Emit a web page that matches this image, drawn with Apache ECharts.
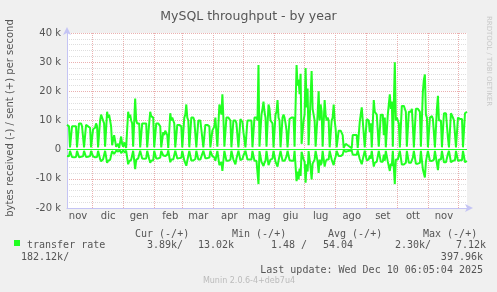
<!DOCTYPE html>
<html><head><meta charset="utf-8">
<script src="https://cdn.jsdelivr.net/npm/echarts@6/dist/echarts.min.js"></script>
<style>html,body{margin:0;padding:0;background:#f0f0f0}#c{width:497px;height:292px}</style>
</head><body><div id="c"></div>
<script>
// Italian month abbreviations used for x labels
const monthNames = ['gen','feb','mar','apr','mag','giu','lug','ago','set','ott','nov','dic'];
// first day shown: 2024-11-06, one value per day, 400 days
const startYMD = [2024, 10, 6];
// sent (+), kB/s, daily averages
const sent = [
 8.5,9,8,0.8,0.6,
 8,8.5,8,7.5,8,0.8,0.6,
 9,8.5,9,8,8.5,0.8,0.6,
 8.5,9,8,8.5,7.5,0.8,0.6,
 7,6.5,7.5,9,8,0.8,0.6,
 10,12,11,10.5,9,1,0.8,
 13,11,12,10,8,1.5,1,
 5,3,1,1.5,2,0.6,0.5,
 4.5,2,1,2.5,3,0.6,0.5,
 13,11,12,10,9,1,0.8,
 17.5,10,9,8.5,9,0.8,0.6,
 9,9.5,9,8.5,9,0.8,0.6,
 9,13,11.5,12,11,0.8,0.6,
 9,8.5,9,9,8,0.8,0.6,
 6,5,6.5,6,5,0.6,0.5,
 12.5,10,11,10,9,0.8,0.6,
 8.5,9,8.5,9,8,0.8,0.6,
 11,12,15.5,11,10,0.8,0.6,
 11,10.5,11,10,9.5,0.8,0.6,
 10,9.5,10,7,6.5,0.8,0.6,
 8.5,9,8.5,8,8,0.8,0.6,
 6.5,6,8,11,11.5,1,0.8,
 15.5,14,12,19,11,1,0.8,
 11,10.5,11,10.5,10,0.8,0.6,
 10,9.5,10,9,9.5,0.8,0.6,
 10.5,10,9.5,6,6.5,0.8,0.6,
 10,10.5,10,9.5,10,0.8,0.6,
 11,10.5,11,10,29,1,0.8,
 12,14,16.5,13,11,1,0.8,
 15.5,14,10,10,9,0.8,0.6,
 12,13,17,11,10,0.8,0.6,
 11,12,11,9,6.5,0.8,0.6,
 10.5,10,11,11.5,11,1,0.8,
 29,22,24,19,26,2,1.5,
 10,12,28,14.5,21,1.5,1,
 18,27,14,12,10,1,0.8,
 12,20,10,15.5,13,1,0.8,
 17,12,10,11,10,0.8,0.6,
 10,11,15.5,10,7,0.8,0.6,
 6.5,7,6.5,6,5,0.6,0.5,
 2,2,1.5,1.5,1,0.5,0.5,
 5,5.5,5,4.5,5,0.6,0.5,
 9.5,10,14.5,10,9.5,0.8,0.6,
 10.5,11,10,6,9,0.8,0.6,
 17,13,12.5,12,12,1,0.8,
 12,11.5,12,5,11,0.8,0.6,
 12,12,19,14,16.5,1,0.8,
 30,10,11,10,9,0.8,0.6,
 15,15.5,15,14.5,13,1,0.8,
 13,13.5,13,14,8,0.8,0.6,
 14,14.5,14,13.5,13,1,0.8,
 20,24,25.8,12,11,0.8,0.6,
 11,11,11.5,10.5,10,0.8,0.6,
 14,18.5,10,10.5,10,0.8,0.6,
 12.5,12,12.5,12,4,0.8,0.6,
 12.5,12,11,10,10.5,0.8,0.6,
 11,11,10.5,11,10.5,0.8,0.6,
 12.5,12,13.02
];
// received (-), kB/s, daily averages (drawn below zero)
const received = [
 2.2,2.5,2.3,0.4,0.3,
 2.5,2.4,2.6,2.3,2.5,0.4,0.3,
 2.6,2.5,2.4,2.5,2.3,0.4,0.3,
 2.5,2.6,2.4,2.5,2.2,0.4,0.3,
 2.3,2.2,2.6,2.8,2.5,0.4,0.3,
 3.2,4,3.5,3.3,3,0.4,0.3,
 4.5,3.8,4,3.5,3,0.5,0.4,
 1.5,1,0.4,0.5,0.6,0.3,0.3,
 1.2,0.6,0.3,0.8,1,0.3,0.3,
 5,4,4.2,3.5,3.2,0.4,0.3,
 6.7,3.5,3.2,3,3.2,0.4,0.3,
 3,3.2,3.1,2.9,3,0.4,0.3,
 3.2,4.5,3.8,4,3.6,0.4,0.3,
 3,2.8,3,3,2.7,0.4,0.3,
 2,1.6,2.2,2,1.7,0.3,0.3,
 4.3,3.4,3.7,3.4,3,0.4,0.3,
 3,3.1,2.9,3.1,2.8,0.4,0.3,
 3.7,4,5.5,3.8,3.4,0.4,0.3,
 3.7,3.5,3.7,3.4,3.2,0.4,0.3,
 3.4,3.2,3.4,2.4,2.2,0.4,0.3,
 2.9,3,2.9,2.7,2.7,0.4,0.3,
 2.2,2,2.7,3.8,4,0.4,0.3,
 5.3,4.8,4.2,7.3,3.8,0.4,0.3,
 3.8,3.6,3.8,3.6,3.4,0.4,0.3,
 3.4,3.2,5,3.1,3.2,0.4,0.3,
 3.6,3.4,3.2,2,2.2,0.4,0.3,
 3.4,3.6,3.4,3.2,3.4,0.4,0.3,
 3.8,3.6,3.8,3.4,11.8,0.5,0.4,
 4.2,4.8,5.6,4.5,3.8,0.4,0.3,
 5.3,4.8,3.4,3.4,3.1,0.4,0.3,
 4.1,4.5,5.8,3.8,3.4,0.4,0.3,
 3.8,4.1,3.8,3.1,2.2,0.4,0.3,
 3.6,3.4,3.8,4,3.8,0.4,0.3,
 10.8,7.5,10.2,6.5,9,0.7,0.5,
 3.4,4.1,11.3,5,7.5,0.5,0.4,
 6.2,10.2,4.8,4.1,3.4,0.4,0.3,
 4.1,8,3.4,5.3,4.5,0.4,0.3,
 5.8,4.1,3.4,3.8,3.4,0.4,0.3,
 3.4,3.8,5.3,3.4,2.4,0.4,0.3,
 2.2,2.4,2.2,2,1.7,0.3,0.3,
 0.7,0.7,0.5,0.5,0.4,0.3,0.3,
 1.7,1.9,1.7,1.5,1.7,0.3,0.3,
 3.2,3.4,5,3.4,3.2,0.4,0.3,
 3.6,3.8,3.4,2,3.1,0.4,0.3,
 5.8,4.5,4.3,4.1,4.1,0.4,0.3,
 4.1,3.9,4.1,1.7,3.8,0.4,0.3,
 4.1,4.1,7.3,4.8,5.6,0.4,0.3,
 11.8,3.4,3.8,3.4,3.1,0.4,0.3,
 5.1,5.3,5.1,5,4.5,0.4,0.3,
 4.5,4.6,4.5,4.8,2.7,0.4,0.3,
 4.8,5,4.8,4.6,4.5,0.4,0.3,
 6.8,8.2,9.5,4.1,3.8,0.4,0.3,
 3.8,3.8,3.9,3.6,3.4,0.4,0.3,
 4.8,7,3.4,3.6,3.4,0.4,0.3,
 4.3,4.1,4.3,4.1,1.4,0.4,0.3,
 4.3,4.1,3.8,3.4,3.6,0.4,0.3,
 3.8,3.8,3.6,3.8,3.6,0.4,0.3,
 4.3,4.1,3.89
];
const yMin = -20, yMax = 40, yStep = 10;
const legendHeaders = ['Cur (-/+)','Min (-/+)','Avg (-/+)','Max (-/+)'];
const legendName = 'transfer rate';
const legendValues = ['3.89k/','13.02k','1.48 /','54.04','2.30k/','7.12k'];
const legendWrap = ['182.12k/','397.96k'];
const lastUpdate = 'Last update: Wed Dec 10 06:05:04 2025';
const footer = 'Munin 2.0.6-4+deb7u4';
const titleText = 'MySQL throughput - by year';
const yTitle = 'bytes received (-) / sent (+) per second';
const sideText = 'RRDTOOL / TOBI OETIKER';

const days = [];
for (let i = 0; i < sent.length; i++) {
  const d = new Date(Date.UTC(startYMD[0], startYMD[1], startYMD[2] + i));
  days.push(d.toISOString().slice(0, 10));
}
const dom = s => parseInt(s.slice(8, 10), 10);
const mon = s => parseInt(s.slice(5, 7), 10) - 1;

const GREEN = '#22ff22';
const txt = '#555';
const mono = '"DejaVu Sans Mono", monospace';
const sans = '"DejaVu Sans", sans-serif';

const chart = echarts.init(document.getElementById('c'), null, {renderer: 'canvas'});
const legendX = [135, 232, 328, 423];
const valX = [147, 198, 271, 323, 395, 456];
const graphics = [
  {type:'text', x:10, y:118, rotation:Math.PI/2, style:{text:yTitle, fill:txt, font:'10px '+sans, textAlign:'center', textVerticalAlign:'middle'}},
  {type:'text', x:489, y:61, rotation:-Math.PI/2, style:{text:sideText, fill:'#c8c8c8', font:'7px '+sans, textAlign:'center', textVerticalAlign:'middle'}},
  {type:'rect', shape:{x:14, y:240, width:6, height:6}, style:{fill:GREEN}},
  {type:'text', x:27, y:245, style:{text:legendName, fill:txt, font:'10px '+mono, textVerticalAlign:'middle'}},
  {type:'text', x:21, y:257.5, style:{text:legendWrap[0], fill:txt, font:'10px '+mono, textVerticalAlign:'middle'}},
  {type:'text', x:483, y:257.5, style:{text:legendWrap[1], fill:txt, font:'10px '+mono, textAlign:'right', textVerticalAlign:'middle'}},
  {type:'text', x:483, y:270, style:{text:lastUpdate, fill:txt, font:'10px '+mono, textAlign:'right', textVerticalAlign:'middle'}},
  {type:'text', x:249, y:281, style:{text:footer, fill:'#bbbbbb', font:'8px '+sans, textAlign:'center', textVerticalAlign:'middle'}}
];
legendHeaders.forEach((h, i) => graphics.push({type:'text', x:legendX[i], y:234, style:{text:h, fill:txt, font:'10px '+mono, textVerticalAlign:'middle'}}));
legendValues.forEach((v, i) => graphics.push({type:'text', x:valX[i], y:245, style:{text:v, fill:txt, font:'10px '+mono, textVerticalAlign:'middle'}}));

chart.setOption({
  animation: false,
  backgroundColor: '#f0f0f0',
  title: {text: titleText, left: 'center', top: 5, textStyle: {color: txt, fontSize: 12.5, fontWeight: 'normal', fontFamily: sans}},
  grid: {left: 67, top: 33, width: 400, height: 175, show: true, backgroundColor: '#ffffff', borderWidth: 0},
  xAxis: {
    type: 'category', data: days, boundaryGap: false,
    axisLine: {show: true, onZero: false, lineStyle: {color: '#c4c4f4'}, symbol: ['none', 'arrow'], symbolSize: [6, 8], symbolOffset: [0, 6]},
    axisTick: {show: false},
    axisLabel: {interval: (i, v) => dom(v) === 17, formatter: v => monthNames[mon(v)], color: txt, fontSize: 10, fontFamily: sans, margin: 3},
    splitLine: {show: true, interval: (i, v) => dom(v) === 1, lineStyle: {color: '#eab0b0', width: 1, type: [1, 1]}}
  },
  yAxis: {
    type: 'value', min: yMin, max: yMax, interval: yStep,
    axisLine: {show: true, lineStyle: {color: '#c4c4f4'}, symbol: ['none', 'arrow'], symbolSize: [6, 8], symbolOffset: [0, 6]},
    axisTick: {show: false},
    axisLabel: {formatter: v => v === 0 ? '0' : v + ' k', color: txt, fontSize: 10, fontFamily: sans, margin: 6},
    splitLine: {show: true, lineStyle: {color: '#eab0b0', width: 1, type: [1, 1]}},
    minorTick: {show: false, splitNumber: 5},
    minorSplitLine: {show: true, lineStyle: {color: '#dedede', width: 1, type: [1, 1]}}
  },
  graphic: graphics,
  series: [
    {type: 'line', data: sent, symbol: 'none', lineStyle: {color: GREEN, width: 2}, z: 3,
     markLine: {silent: true, symbol: 'none', label: {show: false}, lineStyle: {color: GREEN, width: 1, type: 'solid'}, data: [{yAxis: 0}]}},
    {type: 'line', data: received.map(v => -v), symbol: 'none', lineStyle: {color: GREEN, width: 2}, z: 3}
  ]
});
</script></body></html>
